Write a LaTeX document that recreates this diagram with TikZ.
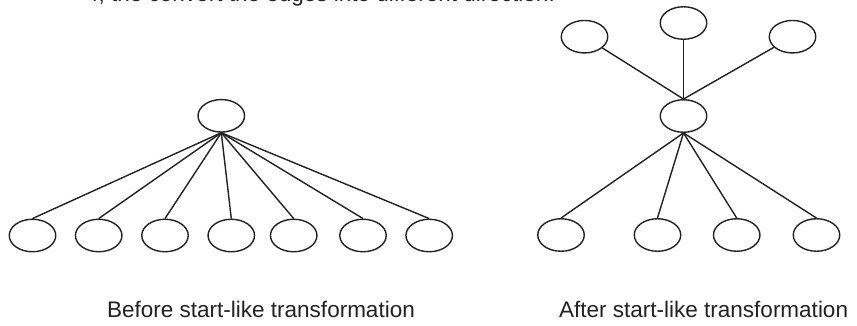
\documentclass[tikz,border=0pt]{standalone}
\usepackage{fontspec}
\setmainfont{Liberation Sans}
\usetikzlibrary{shapes.geometric}
\definecolor{ink}{HTML}{222222}
\tikzset{
  vert/.style={ellipse, draw=ink, line width=1.4pt, inner sep=0pt,
               minimum width=46.5pt, minimum height=32.5pt},
  edge/.style={draw=ink, line width=1.4pt},
  caption/.style={anchor=base west, inner sep=0pt, text=ink,
                  font=\fontsize{22.5}{27}\selectfont}
}
\begin{document}
\begin{tikzpicture}[x=1pt, y=-1pt]
  \useasboundingbox (0,0) rectangle (857,325);
  \fill[white] (0,0) rectangle (857,325);

  % heading line, cut by the top edge
  \begin{scope}
    \clip (0,0) rectangle (857,325);
    \node[caption] (bullet) at (60,1.5) {•};
    \node[caption] (head) at (86,1.5) {4, the convert the edges into different direction.};
  \end{scope}

  % tree before the transformation
  \node[vert] (r) at (221.3,115.8) {};
  \foreach \i/\x in {1/32.5, 2/98.7, 3/165, 4/231.3, 5/293.7, 6/363, 7/429.2} {
    \node[vert] (b\i) at (\x,235.5) {};
    \draw[edge] (r.south) -- (b\i.north);
  }

  % tree after the transformation
  \node[vert] (c) at (683.5,116) {};
  \node[vert] (t1) at (584.5,36.7) {};
  \node[vert] (t2) at (683.5,23) {};
  \node[vert] (t3) at (792.5,36.7) {};
  \foreach \i in {1,2,3} {
    \draw[edge] (c.north) -- (t\i);
  }
  \foreach \i/\x in {1/561, 2/657.5, 3/736.7, 4/816.5} {
    \node[vert] (a\i) at (\x,235) {};
    \draw[edge] (c.south) -- (a\i.north);
  }

  % captions
  \node[caption] (before) at (107,317) {Before start-like transformation};
  \node[caption] (after) at (559,317) {After start-like transformation};
\end{tikzpicture}
\end{document}
